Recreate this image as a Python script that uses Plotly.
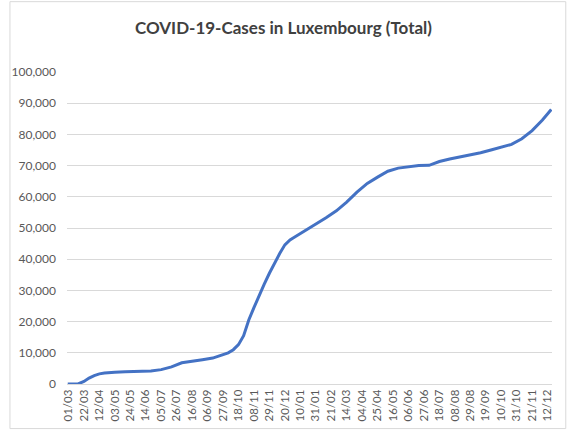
import pandas as pd
import plotly.graph_objects as go

# total cases
dates = ["2020-02-29", "2020-03-14", "2020-03-22", "2020-03-29", "2020-04-05",
         "2020-04-12", "2020-04-19", "2020-04-26", "2020-05-03", "2020-05-17",
         "2020-06-07", "2020-06-21", "2020-07-05", "2020-07-19", "2020-08-02",
         "2020-08-16", "2020-08-30", "2020-09-13", "2020-09-27", "2020-10-04",
         "2020-10-11", "2020-10-18", "2020-10-25", "2020-11-01", "2020-11-08",
         "2020-11-15", "2020-11-22", "2020-11-29", "2020-12-06", "2020-12-13",
         "2020-12-20", "2020-12-27", "2021-01-03", "2021-01-17", "2021-01-31",
         "2021-02-14", "2021-02-28", "2021-03-14", "2021-03-28", "2021-04-11",
         "2021-04-25", "2021-05-09", "2021-05-23", "2021-06-06", "2021-06-20",
         "2021-07-04", "2021-07-18", "2021-08-01", "2021-08-15", "2021-08-29",
         "2021-09-12", "2021-09-26", "2021-10-10", "2021-10-24", "2021-11-07",
         "2021-11-21", "2021-12-05", "2021-12-17"]
cases = [0, 40, 800, 1900, 2700,
         3250, 3500, 3700, 3800, 3950,
         4050, 4150, 4600, 5500, 6800,
         7400, 7800, 8300, 9300, 10000,
         11000, 12600, 15500, 20500, 24500,
         28500, 32000, 35500, 38800, 41800,
         44600, 46200, 47200, 49200, 51200,
         53300, 55500, 58300, 61500, 64300,
         66300, 68200, 69200, 69700, 70000,
         70100, 71300, 72100, 72700, 73300,
         74100, 75000, 75800, 76800, 78600,
         81200, 84600, 88000]

tick_labels = ["01/03", "22/03", "12/04", "03/05", "24/05", "14/06", "05/07", "26/07",
               "16/08", "06/09", "27/09", "18/10", "08/11", "29/11", "20/12", "10/01",
               "31/01", "21/02", "14/03", "04/04", "25/04", "16/05", "06/06", "27/06",
               "18/07", "08/08", "29/08", "19/09", "10/10", "31/10", "21/11", "12/12"]
tick_vals = pd.date_range("2020-03-01", periods=len(tick_labels), freq="21D")

W, H = 567, 433
L, R, T, B = 59, 15, 72, 46

fig = go.Figure()
fig.add_trace(go.Scatter(x=pd.to_datetime(dates), y=cases, mode="lines",
                         line=dict(color="#4472C4", width=3), showlegend=False))

fig.update_layout(
    width=W, height=H,
    margin=dict(l=L, r=R, t=T, b=B),
    paper_bgcolor="white", plot_bgcolor="white",
    font=dict(family="Lato, Calibri, sans-serif", color="#595959", size=12),
    title=dict(text="<b>COVID-19-Cases in Luxembourg (Total)</b>", x=0.5, xanchor="center",
               y=1 - 28 / H, yanchor="middle",
               font=dict(size=17, color="#404040")),
)
fig.update_xaxes(type="date", range=["2020-02-28", "2021-12-18"],
                 tickvals=tick_vals, ticktext=tick_labels, tickangle=-90,
                 showgrid=False, showline=True, linecolor="#d9d9d9", linewidth=1,
                 ticks="", tickfont=dict(size=11.5))
fig.update_yaxes(range=[0, 100000], dtick=10000, tickformat=",",
                 showgrid=True, gridcolor="#d9d9d9", gridwidth=1,
                 zeroline=False, showline=False, ticks="", ticklabelstandoff=10)

# light frame around the chart area, like the Excel chart border
pw, ph = W - L - R, H - T - B
fig.add_shape(type="rect", xref="paper", yref="paper",
              x0=-(L - 1) / pw, x1=1 + (R - 1) / pw, y0=-(B - 1) / ph, y1=1 + (T - 1) / ph,
              line=dict(color="#d9d9d9", width=1))

# drop the default page margin so the chart sits at the window's corner
fig.write_html("out.html", config={"displayModeBar": False},
               post_script="document.body.style.margin='0px';")
